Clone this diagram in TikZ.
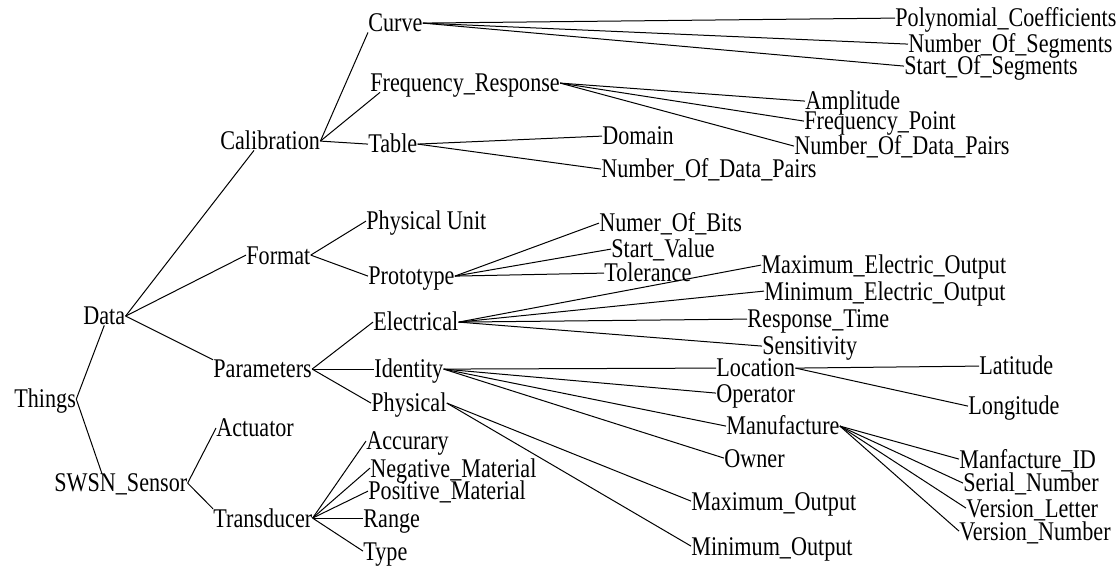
\documentclass[tikz,border=0pt]{standalone}
\usepackage{fontspec}
\setmainfont[FakeStretch=0.82]{Liberation Serif}

\begin{document}
\begin{tikzpicture}[x=0.5pt, y=-0.5pt,
			term/.style={anchor=base west, inner sep=0pt, text height=8.9pt, text depth=0pt, font=\fontsize{13.5}{16}\selectfont},
			link/.style={line width=0.5pt}
		]

		\useasboundingbox (0,0) rectangle (1116,567);

		\node[term] (things) at (14,408) {Things};
		\node[term] (data) at (83,325) {Data};
		\node[term] (swsn) at (54,492) {SWSN\_Sensor};

		\node[term] (calib) at (220,150) {Calibration};
		\node[term] (format) at (246,264) {Format};
		\node[term] (params) at (213,378) {Parameters};
		\node[term] (actuator) at (216,437) {Actuator};
		\node[term] (transducer) at (213,527) {Transducer};

		\node[term] (curve) at (368,32) {Curve};
		\node[term] (freqresp) at (370,92) {Frequency\_Response};
		\node[term] (table) at (368,153) {Table};
		\node[term] (physunit) at (366,230) {Physical Unit};
		\node[term] (prototype) at (368,285) {Prototype};
		\node[term] (electrical) at (373,331) {Electrical};
		\node[term] (identity) at (374,378) {Identity};
		\node[term] (physical) at (371,412) {Physical};
		\node[term] (accurary) at (366,450) {Accurary};
		\node[term] (negmat) at (370,477) {Negative\_Material};
		\node[term] (posmat) at (368,500) {Positive\_Material};
		\node[term] (range) at (363,527) {Range};
		\node[term] (type) at (363,560) {Type};

		\node[term] (polycoef) at (895,27) {Polynomial\_Coefficients};
		\node[term] (numseg) at (908,53) {Number\_Of\_Segments};
		\node[term] (startseg) at (904,75) {Start\_Of\_Segments};
		\node[term] (amplitude) at (805,110) {Amplitude};
		\node[term] (freqpoint) at (804,130) {Frequency\_Point};
		\node[term] (numpairsa) at (794,155) {Number\_Of\_Data\_Pairs};
		\node[term] (domain) at (602,145) {Domain};
		\node[term] (numpairsb) at (601,178) {Number\_Of\_Data\_Pairs};

		\node[term] (numbits) at (599,232) {Numer\_Of\_Bits};
		\node[term] (startval) at (611,258) {Start\_Value};
		\node[term] (tolerance) at (604,282) {Tolerance};
		\node[term] (maxelec) at (761,274) {Maximum\_Electric\_Output};
		\node[term] (minelec) at (764,300) {Minimum\_Electric\_Output};
		\node[term] (resptime) at (747,328) {Response\_Time};
		\node[term] (sensitivity) at (762,355) {Sensitivity};

		\node[term] (location) at (716,377) {Location};
		\node[term] (latitude) at (979,375) {Latitude};
		\node[term] (operator) at (716,402) {Operator};
		\node[term] (longitude) at (968,415) {Longitude};
		\node[term] (manufacture) at (726,435) {Manufacture};
		\node[term] (owner) at (724,467) {Owner};
		\node[term] (manfid) at (959,468) {Manfacture\_ID};
		\node[term] (serial) at (963,492) {Serial\_Number};
		\node[term] (verletter) at (966,517) {Version\_Letter};
		\node[term] (vernumber) at (959,540) {Version\_Number};
		\node[term] (maxout) at (691,510) {Maximum\_Output};
		\node[term] (minout) at (691,555) {Minimum\_Output};

		\draw[link] (things.east) -- (data.south);
		\draw[link] (things.east) -- ([xshift=24pt]swsn.north west);

		\draw[link] (data.east) -- ([xshift=17pt]calib.south west);
		\draw[link] (data.east) -- (format.west);
		\draw[link] (data.east) -- (params.north west);

		\draw[link] (swsn.east) -- (actuator.west);
		\draw[link] (swsn.east) -- (transducer.north west);

		\draw[link] (calib.east) -- (curve.south west);
		\draw[link] (calib.east) -- ([xshift=5pt]freqresp.south west);
		\draw[link] (calib.east) -- (table.west);

		\draw[link] (curve.east) -- (polycoef.west);
		\draw[link] (curve.east) -- (numseg.west);
		\draw[link] (curve.east) -- (startseg.west);

		\draw[link] (freqresp.east) -- (amplitude.west);
		\draw[link] (freqresp.east) -- (freqpoint.west);
		\draw[link] (freqresp.east) -- (numpairsa.west);

		\draw[link] (table.east) -- (domain.west);
		\draw[link] (table.east) -- (numpairsb.west);

		\draw[link] (format.east) -- (physunit.west);
		\draw[link] (format.east) -- (prototype.west);

		\draw[link] (prototype.east) -- (numbits.west);
		\draw[link] (prototype.east) -- (startval.west);
		\draw[link] (prototype.east) -- (tolerance.west);

		\draw[link] (params.east) -- (electrical.west);
		\draw[link] (params.east) -- (identity.west);
		\draw[link] (params.east) -- (physical.west);

		\draw[link] (electrical.east) -- (maxelec.west);
		\draw[link] (electrical.east) -- (minelec.west);
		\draw[link] (electrical.east) -- (resptime.west);
		\draw[link] (electrical.east) -- (sensitivity.west);

		\draw[link] (identity.east) -- (location.west);
		\draw[link] (identity.east) -- (operator.west);
		\draw[link] (identity.east) -- (manufacture.west);
		\draw[link] (identity.east) -- (owner.west);

		\draw[link] (location.east) -- (latitude.west);
		\draw[link] (location.east) -- (longitude.west);

		\draw[link] (manufacture.east) -- (manfid.west);
		\draw[link] (manufacture.east) -- (serial.west);
		\draw[link] (manufacture.east) -- (verletter.west);
		\draw[link] (manufacture.east) -- (vernumber.west);

		\draw[link] (physical.east) -- (maxout.west);
		\draw[link] (physical.east) -- (minout.west);

		\draw[link] (transducer.east) -- (accurary.west);
		\draw[link] (transducer.east) -- (negmat.west);
		\draw[link] (transducer.east) -- (posmat.west);
		\draw[link] (transducer.east) -- (range.west);
		\draw[link] (transducer.east) -- (type.west);

	\end{tikzpicture}
\end{document}
